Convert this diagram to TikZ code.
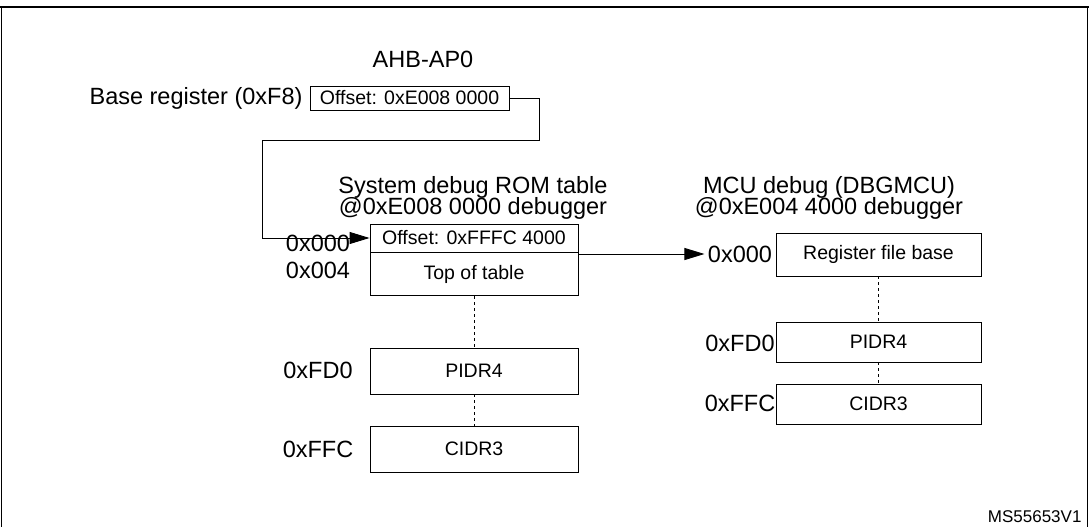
\documentclass[tikz,border=0pt]{standalone}
\usepackage{fontspec}
\setmainfont{Liberation Sans}
\usetikzlibrary{arrows.meta}
\begin{document}
\begin{tikzpicture}[x=1pt,y=-1pt,
  lbl/.style={font=\fontsize{23.5}{26}\selectfont},
  box/.style={draw,line width=0.9pt,font=\fontsize{19.5}{22}\selectfont,inner sep=0},
  dsh/.style={dashed,line width=0.6pt},
  conn/.style={line width=0.9pt},
  arr/.style={conn,-{Triangle[length=20pt,width=12pt]}}]
\useasboundingbox (0,0) rectangle (1089,527);
\draw[line width=2pt] (0,7) -- (1089,7);
\draw[line width=0.9pt] (1,7) -- (1,527) (1087,7) -- (1087,527);
\node[lbl] (ahb) at (423,59) {AHB-AP0};
\node[lbl,anchor=east] (base) at (306,98) {Base register (0xF8)};
\node[box,minimum width=199pt,minimum height=24pt] (ob) at (409.5,98) {Offset: 0xE008 0000};
\node[lbl] (t1) at (473,187) {System debug ROM table};
\node[lbl] (t2) at (473,208) {@0xE008 0000 debugger};
\node[box,minimum width=208pt,minimum height=28pt] (r1) at (474,238) {Offset: 0xFFFC 4000};
\node[box,minimum width=208pt,minimum height=43pt,anchor=north] (r2) at (r1.south) {Top of table};
\node[box,minimum width=208pt,minimum height=46pt] (r3) at (474,371) {PIDR4};
\node[box,minimum width=208pt,minimum height=46pt] (r4) at (474,449) {CIDR3};
\draw[dsh] (r2.south) -- (r3.north) (r3.south) -- (r4.north);
\node[lbl] (a0) at (318,243) {0x000};
\node[lbl] (a4) at (318,270) {0x004};
\node[lbl] (ad) at (318,370) {0xFD0};
\node[lbl] (af) at (318,449) {0xFFC};
\coordinate (c1) at (539,98);
\coordinate (c2) at (539,140);
\coordinate (c3) at (262,140);
\coordinate (c4) at (262,238);
\draw[arr] (ob.east) -- (c1) -- (c2) -- (c3) -- (c4) -- (r1.west);
\node[lbl] (m1) at (829,187) {MCU debug (DBGMCU)};
\node[lbl] (m2) at (829,208) {@0xE004 4000 debugger};
\node[box,minimum width=205pt,minimum height=43pt] (s1) at (878.5,254.5) {Register file base};
\node[box,minimum width=205pt,minimum height=40pt] (s2) at (878.5,342) {PIDR4};
\node[box,minimum width=205pt,minimum height=40pt] (s3) at (878.5,404) {CIDR3};
\draw[dsh] (s1.south) -- (s2.north) (s2.south) -- (s3.north);
\node[lbl] (b0) at (740,254) {0x000};
\node[lbl] (bd) at (740,343) {0xFD0};
\node[lbl] (bf) at (740,403) {0xFFC};
\coordinate (rs) at (578,254);
\draw[arr] (rs) -- (b0.west);
\node[font=\fontsize{17}{19}\selectfont,anchor=east] (ms) at (1085,517) {MS55653V1};
\end{tikzpicture}
\end{document}
